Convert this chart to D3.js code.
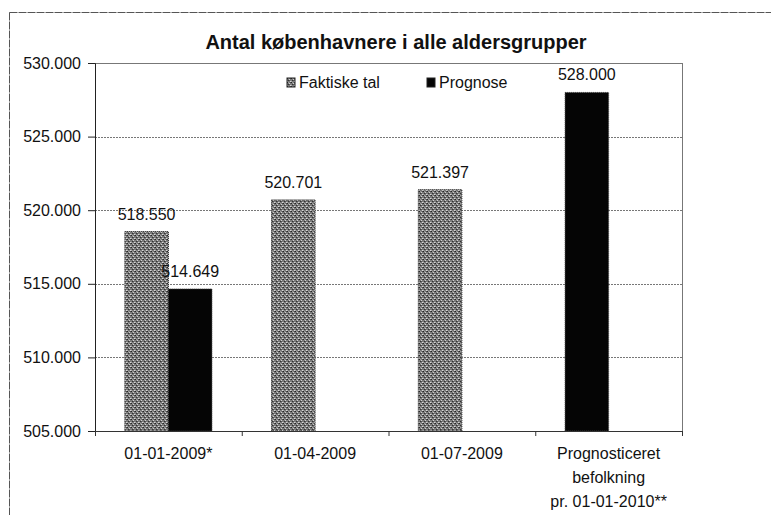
<!DOCTYPE html>
<html>
<head>
<meta charset="utf-8">
<script src="https://cdn.jsdelivr.net/npm/d3@7"></script>
<style>
  body { margin: 0; background: #fff; }
  text { font-family: "Liberation Sans", Arial, sans-serif; fill: #111; }
</style>
</head>
<body>
<script>
// Data
var categories = [
    ["01-01-2009*"],
    ["01-04-2009"],
    ["01-07-2009"],
    ["Prognosticeret", "befolkning", "pr. 01-01-2010**"]
];
var seriesNames = ["Faktiske tal", "Prognose"];
var faktiske = [518550, 520701, 521397, null];
var prognose = [514649, null, null, 528000];
var yTicks = [505000, 510000, 515000, 520000, 525000, 530000];

var svgWidth = 771;
var svgHeight = 515;

var margin = { top: 63, right: 89, bottom: 84, left: 95 };
var width = svgWidth - margin.left - margin.right;
var height = svgHeight - margin.top - margin.bottom;

var svg = d3.select("body")
    .append("svg")
    .attr("width", svgWidth)
    .attr("height", svgHeight);

// pattern to look like the printed grey
var defs = svg.append("defs");
var pat = defs.append("pattern")
    .attr("id", "grayFill")
    .attr("width", 4)
    .attr("height", 4)
    .attr("patternUnits", "userSpaceOnUse");
pat.append("rect").attr("width", 4).attr("height", 4).attr("fill", "#7a7a7a");
[[0, 0, "#262626"], [2, 1, "#d0d0d0"], [1, 2, "#333"], [3, 3, "#d8d8d8"],
 [3, 0, "#4a4a4a"], [0, 3, "#a8a8a8"], [2, 2, "#555"], [1, 0, "#999"]]
    .forEach(function (p) {
        pat.append("rect").attr("x", p[0]).attr("y", p[1])
            .attr("width", 1).attr("height", 1).attr("fill", p[2]);
    });

// outer frame
svg.append("rect")
    .attr("x", 9.5).attr("y", 12.5)
    .attr("width", 762).attr("height", 520)
    .attr("fill", "none")
    .attr("stroke", "#555")
    .attr("stroke-width", 1)
    .attr("stroke-dasharray", "8 1");

// title
svg.append("text")
    .attr("x", 396)
    .attr("y", 49)
    .attr("text-anchor", "middle")
    .attr("font-size", "20px")
    .attr("font-weight", "bold")
    .text("Antal københavnere i alle aldersgrupper");

var chartGroup = svg.append("g")
    .attr("transform", `translate(${margin.left}, ${margin.top})`);

var yScale = d3.scaleLinear()
    .domain([505000, 530000])
    .range([height, 0]);

var xScale = d3.scaleBand()
    .domain(d3.range(categories.length))
    .range([0, width])
    .padding(0);

var barWidth = xScale.bandwidth() * 0.297;
var barGap = (xScale.bandwidth() - 2 * barWidth) / 2;

var dk = d3.formatLocale({ decimal: ",", thousands: ".", grouping: [3], currency: ["", " kr."] });
var fmt = dk.format(",d");

// gridlines
chartGroup.append("g")
    .selectAll("line")
    .data(yTicks.slice(1))
    .enter()
    .append("line")
    .attr("x1", 0)
    .attr("x2", width)
    .attr("y1", d => Math.round(yScale(d)) + 0.5)
    .attr("y2", d => Math.round(yScale(d)) + 0.5)
    .attr("stroke", "#777")
    .attr("stroke-dasharray", d => d === 530000 ? null : "2 1");

// right border
chartGroup.append("line")
    .attr("x1", width + 0.5).attr("x2", width + 0.5)
    .attr("y1", 0).attr("y2", height)
    .attr("stroke", "#777");

// bars: values present in a category are packed from the left
var bars = [];
categories.forEach(function (c, i) {
    var slot = 0;
    [faktiske[i], prognose[i]].forEach(function (v, s) {
        if (v === null) return;
        bars.push({ cat: i, series: s, value: v, slot: slot });
        slot++;
    });
});

chartGroup.selectAll("rect.bar")
    .data(bars)
    .enter()
    .append("rect")
    .attr("class", "bar")
    .attr("x", d => xScale(d.cat) + barGap + d.slot * barWidth)
    .attr("y", d => yScale(d.value))
    .attr("width", barWidth)
    .attr("height", d => height - yScale(d.value))
    .attr("fill", d => d.series === 0 ? "url(#grayFill)" : "#050505")
    .attr("stroke", d => d.series === 0 ? "#222" : "#444")
    .attr("stroke-width", 1)
    .attr("stroke-dasharray", "1 1");

// value labels
chartGroup.selectAll("text.value")
    .data(bars)
    .enter()
    .append("text")
    .attr("class", "value")
    .attr("x", d => xScale(d.cat) + barGap + d.slot * barWidth + barWidth / 2)
    .attr("y", d => yScale(d.value) - 12)
    .attr("text-anchor", "middle")
    .attr("font-size", "16px")
    .text(d => fmt(d.value));

// y axis
var leftAxis = d3.axisLeft(yScale)
    .tickValues(yTicks)
    .tickSize(7)
    .tickPadding(7)
    .tickFormat(fmt);
var yAxisG = chartGroup.append("g").call(leftAxis);
yAxisG.select(".domain").attr("stroke", "#222");
yAxisG.selectAll(".tick line").attr("stroke", "#222");
yAxisG.selectAll("text")
    .attr("font-size", "16px")
    .attr("font-family", "\"Liberation Sans\", Arial, sans-serif")
    .attr("fill", "#111");

// x axis line and category boundary ticks
chartGroup.append("line")
    .attr("x1", 0).attr("x2", width)
    .attr("y1", height + 0.5).attr("y2", height + 0.5)
    .attr("stroke", "#333");

chartGroup.selectAll("line.xtick")
    .data(d3.range(categories.length + 1))
    .enter()
    .append("line")
    .attr("class", "xtick")
    .attr("x1", d => (d < categories.length ? xScale(d) : width) + 0.5)
    .attr("x2", d => (d < categories.length ? xScale(d) : width) + 0.5)
    .attr("y1", height)
    .attr("y2", height + 5)
    .attr("stroke", "#333");

// x labels
var xLabels = chartGroup.selectAll("text.xlabel")
    .data(categories)
    .enter()
    .append("text")
    .attr("class", "xlabel")
    .attr("text-anchor", "middle")
    .attr("font-size", "16px")
    .attr("transform", (d, i) => `translate(${xScale(i) + xScale.bandwidth() / 2}, ${height + 28})`);

xLabels.selectAll("tspan")
    .data(d => d)
    .enter()
    .append("tspan")
    .attr("x", 0)
    .attr("dy", (d, i) => i === 0 ? 0 : 24)
    .text(d => d);

// legend
var legend = chartGroup.append("g")
    .attr("transform", "translate(192, 15)");

var legendX = [0, 140];
seriesNames.forEach(function (name, i) {
    legend.append("rect")
        .attr("x", legendX[i])
        .attr("y", 0)
        .attr("width", 8)
        .attr("height", 9)
        .attr("fill", i === 0 ? "url(#grayFill)" : "#050505")
        .attr("stroke", "#222");
    legend.append("text")
        .attr("x", legendX[i] + 12)
        .attr("y", 10)
        .attr("font-size", "16px")
        .text(name);
});
</script>
</body>
</html>
